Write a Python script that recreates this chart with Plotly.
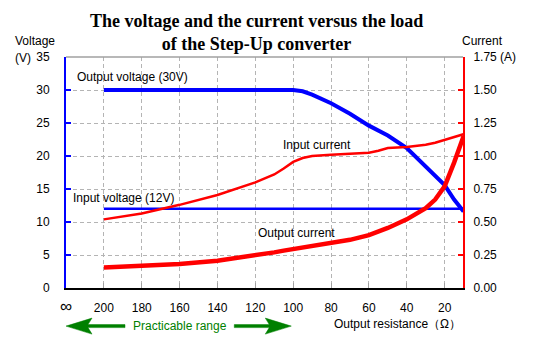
import plotly.graph_objects as go

# Load resistance (ohm); 220 stands for the open-circuit (infinite) position
resistance = [200, 180, 160, 140, 120, 110, 105, 100, 95, 90, 80, 70, 60, 55, 50, 40, 30, 25, 20, 15, 10]
output_voltage = [30, 30, 30, 30, 30, 30, 30, 30, 29.8, 29.3, 28.0, 26.4, 24.6, 23.9, 23.1, 21.2, 18.4, 17.0, 15.6, 13.4, 11.6]
input_voltage = [12, 12, 12, 12, 12, 12, 12, 12, 12, 12, 12, 12, 12, 12, 12, 12, 12, 12, 12, 12, 12]
input_current = [0.52, 0.565, 0.63, 0.705, 0.80, 0.86, 0.905, 0.955, 0.985, 1.0, 1.01, 1.017, 1.025, 1.04, 1.06, 1.068, 1.085, 1.10, 1.12, 1.14, 1.165]
output_current = [0.155, 0.17, 0.182, 0.207, 0.245, 0.27, 0.283, 0.295, 0.31, 0.322, 0.34, 0.365, 0.40, 0.425, 0.455, 0.52, 0.605, 0.67, 0.77, 0.95, 1.15]

x_tickvals = [220, 200, 180, 160, 140, 120, 100, 80, 60, 40, 20]
x_ticktext = ["<span style='font-size:17px'>∞</span>", "200", "180", "160", "140", "120", "100", "80", "60", "40", "20"]
v_tickvals = [0, 5, 10, 15, 20, 25, 30, 35]
v_ticktext = ["0", "5", "10", "15", "20", "25", "30", "35"]
i_tickvals = [0, 0.25, 0.5, 0.75, 1.0, 1.25, 1.5, 1.75]
i_ticktext = ["0.00", "0.25", "0.50", "0.75", "1.00", "1.25", "1.50", "1.75 (A)"]

BLUE = "#0000ff"
RED = "#ff0000"
GREEN = "#008000"
GRID = "#b4b4b4"
FONT = "Liberation Sans"

fig = go.Figure()
fig.add_trace(go.Scatter(x=resistance, y=output_voltage, mode="lines",
                         line=dict(color=BLUE, width=4), yaxis="y"))
fig.add_trace(go.Scatter(x=resistance, y=input_voltage, mode="lines",
                         line=dict(color=BLUE, width=2.5), yaxis="y"))
fig.add_trace(go.Scatter(x=resistance, y=input_current, mode="lines",
                         line=dict(color=RED, width=2.5), yaxis="y2"))
fig.add_trace(go.Scatter(x=resistance, y=output_current, mode="lines",
                         line=dict(color=RED, width=4.5), yaxis="y2"))

fig.update_layout(
    width=537, height=346,
    margin=dict(l=66, r=74, t=57, b=58),
    paper_bgcolor="white", plot_bgcolor="white",
    showlegend=False,
    font=dict(family=FONT, size=12, color="black"),
    xaxis=dict(
        range=[220, 10.3], tickmode="array", tickvals=x_tickvals, ticktext=x_ticktext,
        showline=True, linecolor="black", linewidth=2,
        ticks="inside", ticklen=5, tickcolor="#a0a0a0", tickwidth=1,
        showgrid=True, gridcolor=GRID, gridwidth=1, griddash="4px,3px",
        zeroline=False, ticklabelstandoff=8,
    ),
    yaxis=dict(
        range=[0, 35], tickmode="array", tickvals=v_tickvals, ticktext=v_ticktext,
        showline=True, linecolor=BLUE, linewidth=2,
        ticks="inside", ticklen=5, tickcolor=BLUE, tickwidth=1.5,
        showgrid=True, gridcolor=GRID, gridwidth=1, griddash="4px,3px",
        zeroline=False, ticklabelstandoff=12,
    ),
    yaxis2=dict(
        range=[0, 1.75], tickmode="array", tickvals=i_tickvals, ticktext=i_ticktext,
        overlaying="y", side="right",
        showline=True, linecolor=RED, linewidth=2,
        ticks="inside", ticklen=5, tickcolor=RED, tickwidth=1.5,
        showgrid=False, zeroline=False, ticklabelstandoff=6,
    ),
)

# Chart title (two lines)
fig.add_annotation(
    text="<b>The voltage and the current versus the load<br>of the Step-Up converter</b>",
    xref="paper", yref="paper", x=0.4786, y=1.106, xanchor="center", yanchor="middle",
    showarrow=False, align="center",
    font=dict(family="Liberation Serif", size=18, color="black"),
)

# Top border of the plot area
fig.add_shape(type="line", xref="paper", yref="paper", x0=0, x1=1, y0=1, y1=1,
              line=dict(color="#a0a0a0", width=1.5))

# Series labels
labels = [
    ("Output voltage (30V)", 215.5, 32.0),
    ("Input current", 106.4, 21.7),
    ("Input voltage (12V)", 217.2, 13.7),
    ("Output current", 119.6, 8.4),
]
for text, lx, ly in labels:
    fig.add_annotation(text=text, x=lx, y=ly, xref="x", yref="y",
                       xanchor="left", yanchor="middle", showarrow=False,
                       font=dict(family=FONT, size=12, color="black"))

# Axis titles
fig.add_annotation(text="Voltage", xref="paper", yref="paper", x=-0.1335, y=1.069,
                   xanchor="left", yanchor="middle", showarrow=False)
fig.add_annotation(text="(V)", xref="paper", yref="paper", x=-0.1335, y=0.996,
                   xanchor="left", yanchor="middle", showarrow=False)
fig.add_annotation(text="Current", xref="paper", yref="paper", x=0.992, y=1.069,
                   xanchor="left", yanchor="middle", showarrow=False)
fig.add_annotation(text="Output resistance（Ω）", xref="paper", yref="paper", x=1.0, y=-0.156,
                   xanchor="right", yanchor="middle", showarrow=False)

# Practicable range: from open circuit down to 100 ohm
range_y = -0.165
fig.add_annotation(text="Practicable range", xref="x", yref="paper", x=160, y=range_y,
                   xanchor="center", yanchor="middle", showarrow=False,
                   font=dict(family=FONT, size=12, color=GREEN))
left_arrow = "M0,0 L26,8 L22,1.5 L59,1.5 L59,-1.5 L22,-1.5 L26,-8 Z"
right_arrow = "M0,0 L-26,8 L-22,1.5 L-57,1.5 L-57,-1.5 L-22,-1.5 L-26,-8 Z"
fig.add_shape(type="path", path=left_arrow, xref="x", yref="paper",
              xsizemode="pixel", ysizemode="pixel", xanchor=220, yanchor=range_y,
              fillcolor=GREEN, line=dict(color=GREEN, width=0.5))
fig.add_shape(type="path", path=right_arrow, xref="x", yref="paper",
              xsizemode="pixel", ysizemode="pixel", xanchor=101, yanchor=range_y,
              fillcolor=GREEN, line=dict(color=GREEN, width=0.5))

fig.write_html("out.html")
